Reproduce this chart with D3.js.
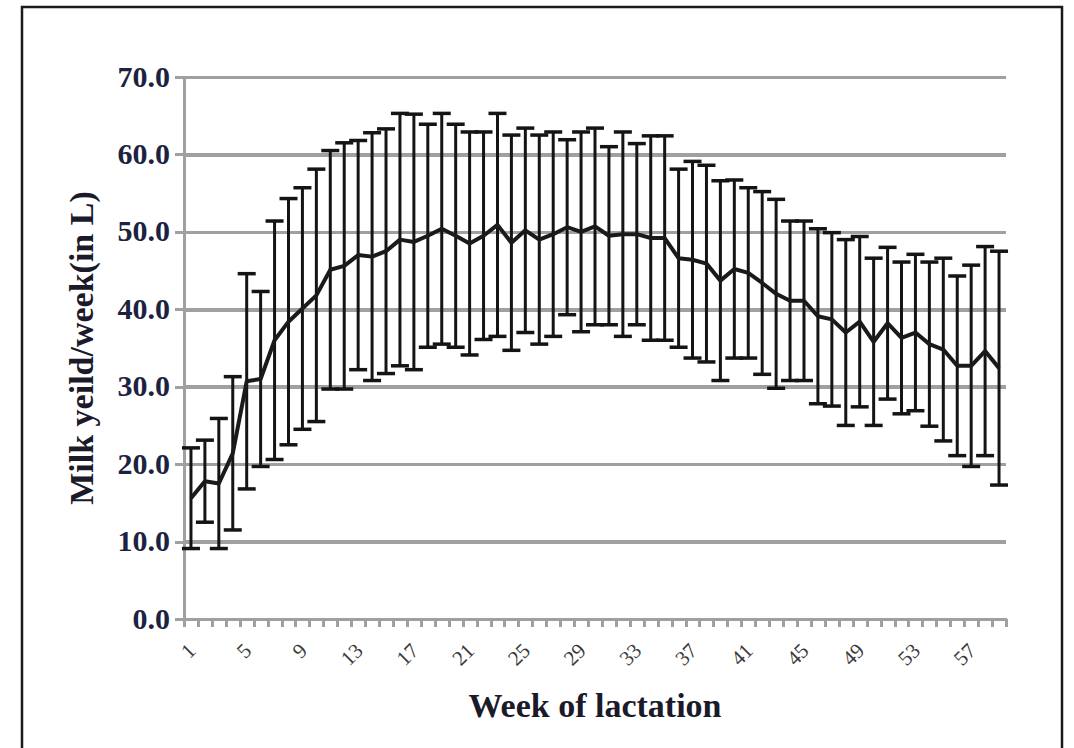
<!DOCTYPE html>
<html>
<head>
<meta charset="utf-8">
<script src="https://cdn.jsdelivr.net/npm/d3@7/dist/d3.min.js"></script>
<style>
  body { margin: 0; background: #fff; }
  svg { display: block; }
  .grid line { stroke: #a0a0a0; stroke-width: 3.5px; shape-rendering: crispEdges; }
  .axis path, .axis line { stroke: #a0a0a0; stroke-width: 3px; shape-rendering: crispEdges; }
  .y-labels text { font-family: "Liberation Serif", serif; font-weight: bold; font-size: 30px; fill: #1c2340; }
  .x-labels text { font-family: "Liberation Serif", serif; font-size: 21px; fill: #3a3a3a; }
  .title { font-family: "Liberation Serif", serif; font-weight: bold; font-size: 34px; fill: #1a1a2a; }
</style>
</head>
<body>
<div id="chart"></div>
<script>
// Weeks of lactation (categories)
var weeks = [1, 2, 3, 4, 5, 6, 7, 8, 9, 10, 11, 12, 13, 14, 15, 16, 17, 18, 19, 20,
  21, 22, 23, 24, 25, 26, 27, 28, 29, 30, 31, 32, 33, 34, 35, 36, 37, 38, 39, 40,
  41, 42, 43, 44, 45, 46, 47, 48, 49, 50, 51, 52, 53, 54, 55, 56, 57, 58, 59];

// Labelled weeks on the x axis
var weekLabels = [1, 5, 9, 13, 17, 21, 25, 29, 33, 37, 41, 45, 49, 53, 57];

// Mean milk yield per week (L)
var meanYield = [15.6, 17.8, 17.5, 21.4, 30.7, 31.0, 36.0, 38.4, 40.1, 41.8,
  45.1, 45.6, 47.0, 46.8, 47.5, 49.0, 48.7, 49.5, 50.4, 49.5,
  48.5, 49.5, 50.9, 48.6, 50.2, 49.0, 49.7, 50.6, 50.0, 50.7,
  49.5, 49.7, 49.7, 49.2, 49.2, 46.6, 46.4, 45.9, 43.7, 45.2,
  44.7, 43.4, 42.0, 41.1, 41.1, 39.1, 38.7, 37.0, 38.4, 35.8,
  38.2, 36.3, 37.0, 35.5, 34.8, 32.7, 32.7, 34.6, 32.4];

// Standard deviation (error bar half length)
var sdYield = [6.5, 5.3, 8.4, 9.9, 13.9, 11.3, 15.4, 15.9, 15.6, 16.3,
  15.4, 15.9, 14.8, 16.0, 15.8, 16.3, 16.5, 14.4, 14.9, 14.4,
  14.4, 13.4, 14.4, 13.9, 13.2, 13.5, 13.2, 11.3, 12.9, 12.7,
  11.5, 13.2, 11.7, 13.2, 13.2, 11.5, 12.7, 12.7, 12.9, 11.5,
  11.0, 11.8, 12.2, 10.3, 10.3, 11.3, 11.2, 12.0, 11.0, 10.8,
  9.8, 9.8, 10.1, 10.6, 11.8, 11.6, 13.0, 13.5, 15.1];

// Y tick values
var yTicks = [0, 10, 20, 30, 40, 50, 60, 70];

var data = weeks.map(function(w, i) {
  return { week: w, mean: meanYield[i], sd: sdYield[i] };
});

// Sizes
var width = 1074, height = 748;
var margin = { top: 77, right: 68, bottom: 129, left: 184 };
var plotW = width - margin.left - margin.right,
    plotH = height - margin.top - margin.bottom;

var svg = d3.select("#chart").append("svg")
  .attr("width", width)
  .attr("height", height);

// Outer frame
svg.append("rect")
  .attr("x", 22)
  .attr("y", 7)
  .attr("width", 1040)
  .attr("height", 780)
  .attr("fill", "none")
  .attr("stroke", "#1a1a1a")
  .attr("stroke-width", 2.5);

var g = svg.append("g")
  .attr("transform", "translate(" + margin.left + "," + margin.top + ")");

// Scales
var x = d3.scaleBand()
  .domain(weeks)
  .range([0, plotW])
  .padding(0);

var xEdge = d3.scaleLinear()
  .domain([0, weeks.length])
  .range([0, plotW]);

var y = d3.scaleLinear()
  .domain([0, 70])
  .range([plotH, 0]);

// Gridlines
g.append("g")
  .attr("class", "grid")
  .call(d3.axisLeft(y).tickValues(yTicks).tickSize(-plotW).tickFormat(""))
  .call(function(s) { s.select(".domain").remove(); });

// Y axis with labels
var yAxis = g.append("g")
  .attr("class", "axis y-labels")
  .call(d3.axisLeft(y).tickValues(yTicks).tickSize(9).tickSizeOuter(0).tickPadding(5)
    .tickFormat(d3.format(".1f")));
yAxis.selectAll("text")
  .attr("dy", "0.3em");

// X axis tick marks between categories
g.append("g")
  .attr("class", "axis")
  .attr("transform", "translate(0," + plotH + ")")
  .call(d3.axisBottom(xEdge).tickValues(d3.range(0, weeks.length + 1)).tickSize(8)
    .tickSizeOuter(0).tickFormat(""));

// X axis labels, rotated
var xLabels = g.append("g")
  .attr("class", "x-labels")
  .attr("transform", "translate(0," + plotH + ")")
  .call(d3.axisBottom(x).tickValues(weekLabels).tickSize(0));
xLabels.select(".domain").remove();
xLabels.selectAll("text")
  .attr("text-anchor", "end")
  .attr("x", 0)
  .attr("y", 0)
  .attr("dy", 0)
  .attr("transform", "translate(6,33) rotate(-45)");

// Error bars
var capW = 18;
var bars = g.append("g")
  .attr("class", "error-bars")
  .selectAll("g")
  .data(data).enter()
  .append("g")
    .attr("transform", function(d) {
      return "translate(" + (x(d.week) + x.bandwidth() / 2) + ",0)";
    });

bars.append("line")
  .attr("y1", function(d) { return y(d.mean + d.sd); })
  .attr("y2", function(d) { return y(d.mean - d.sd); })
  .attr("stroke", "#141414")
  .attr("stroke-width", 3);

bars.append("line")
  .attr("x1", -capW / 2)
  .attr("x2", capW / 2)
  .attr("y1", function(d) { return y(d.mean + d.sd); })
  .attr("y2", function(d) { return y(d.mean + d.sd); })
  .attr("stroke", "#141414")
  .attr("stroke-width", 3.5);

bars.append("line")
  .attr("x1", -capW / 2)
  .attr("x2", capW / 2)
  .attr("y1", function(d) { return y(d.mean - d.sd); })
  .attr("y2", function(d) { return y(d.mean - d.sd); })
  .attr("stroke", "#141414")
  .attr("stroke-width", 3.5);

// Mean line
var line = d3.line()
  .x(function(d) { return x(d.week) + x.bandwidth() / 2; })
  .y(function(d) { return y(d.mean); });

g.append("path")
  .datum(data)
  .attr("fill", "none")
  .attr("stroke", "#1a1a1a")
  .attr("stroke-width", 4)
  .attr("stroke-linejoin", "round")
  .attr("d", line);

// Axis titles
svg.append("text")
  .attr("class", "title")
  .attr("text-anchor", "middle")
  .attr("x", margin.left + plotW / 2)
  .attr("y", 717)
  .text("Week of lactation");

svg.append("text")
  .attr("class", "title")
  .attr("text-anchor", "middle")
  .attr("transform", "translate(93," + (margin.top + plotH / 2) + ") rotate(-90)")
  .text("Milk yeild/week(in L)");
</script>
</body>
</html>
